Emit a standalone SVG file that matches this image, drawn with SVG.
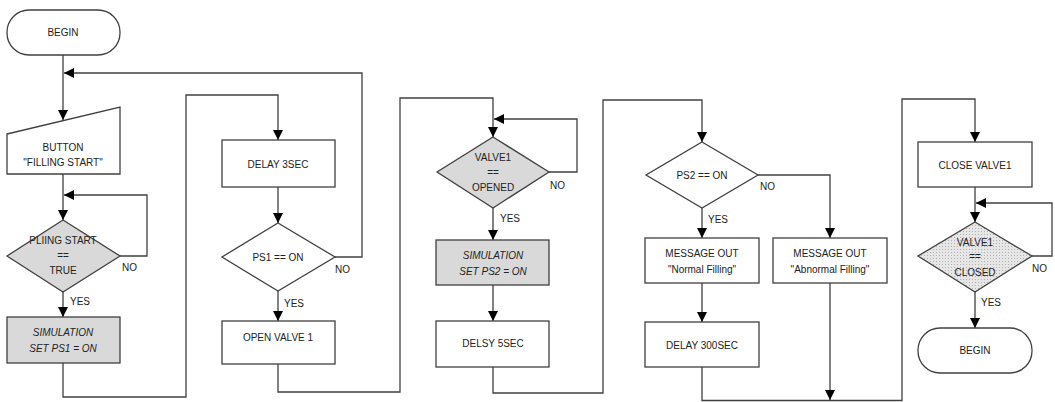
<svg xmlns="http://www.w3.org/2000/svg" width="1055" height="402" viewBox="0 0 1055 402">
<style>
.box{fill:#ffffff;stroke:#404040;stroke-width:1.3}
.gray{fill:#d9d9d9;stroke:#404040;stroke-width:1.3}
.hatch{fill:url(#dots);stroke:#404040;stroke-width:1.3}
.t{font-family:"Liberation Sans",Arial,sans-serif;font-size:10px;fill:#222;text-anchor:middle}
.i{font-style:italic}
.lbl{font-family:"Liberation Sans",Arial,sans-serif;font-size:10px;fill:#222}
.c{fill:none;stroke:#404040;stroke-width:1.3}
.a{marker-end:url(#arr)}
</style>
<defs>
<marker id="arr" viewBox="0 0 10 10" refX="10" refY="5" markerWidth="10" markerHeight="10" markerUnits="userSpaceOnUse" orient="auto">
<path d="M0,0 L10,5 L0,10 z" fill="#000"/>
</marker>
<pattern id="dots" width="3" height="3" patternUnits="userSpaceOnUse">
<rect width="3" height="3" fill="#e6e6e6"/>
<rect width="1" height="1" fill="#b0b0b0"/>
</pattern>
</defs>
<g id="connectors">
<path class="c a" d="M63,55 V120"/>
<path class="c a" d="M335,257 H362 V73 H64"/>
<path class="c a" d="M63,174 V220"/>
<path class="c a" d="M120,256 H147 V195 H64"/>
<path class="c a" d="M63,292 V317"/>
<path class="c a" d="M63,363 V397 H186 V95 H278 V140"/>
<path class="c a" d="M278,187 V223"/>
<path class="c a" d="M278,291 V321"/>
<path class="c a" d="M278,364 V392 H400 V98 H493 V137"/>
<path class="c a" d="M549,172 H577 V119 H494"/>
<path class="c a" d="M493,208 V240"/>
<path class="c a" d="M493,285 V321"/>
<path class="c a" d="M493,367 V393 H603 V100 H702 V142"/>
<path class="c a" d="M702,208 V238"/>
<path class="c a" d="M758,175 H830 V238"/>
<path class="c a" d="M702,283 V322"/>
<path class="c a" d="M830,283 V400"/>
<path class="c a" d="M702,367 V400.5 H902 V99 H975 V142"/>
<path class="c a" d="M975,187 V222"/>
<path class="c a" d="M1032,256 H1052 V203 H976"/>
<path class="c a" d="M975,292 V328"/>
</g>
<g id="labels">
<text class="lbl" x="122" y="271">NO</text>
<text class="lbl" x="70" y="305">YES</text>
<text class="lbl" x="335" y="273">NO</text>
<text class="lbl" x="284" y="307">YES</text>
<text class="lbl" x="550" y="189">NO</text>
<text class="lbl" x="500" y="222">YES</text>
<text class="lbl" x="760" y="190">NO</text>
<text class="lbl" x="708" y="223">YES</text>
<text class="lbl" x="1032" y="272">NO</text>
<text class="lbl" x="981" y="306">YES</text>
</g>
<g id="begin1">
<rect class="box" x="7" y="10" width="113" height="45" rx="22" ry="22"/>
<text class="t" x="63" y="36">BEGIN</text>
</g>
<g id="button">
<polygon class="box" points="7,134 120,107 120,174 7,174"/>
<text class="t" x="63" y="151">BUTTON</text>
<text class="t" x="63" y="166">"FILLING START"</text>
</g>
<g id="dec1">
<polygon class="gray" points="63,220 120,256 63,292 7,256"/>
<text class="t" x="63" y="244">PLIING START</text>
<text class="t" x="63" y="259">==</text>
<text class="t" x="63" y="274">TRUE</text>
</g>
<g id="sim1">
<rect class="gray" x="7" y="317" width="113" height="46"/>
<text class="t i" x="63" y="336">SIMULATION</text>
<text class="t i" x="63" y="352">SET PS1 = ON</text>
</g>
<g id="delay3">
<rect class="box" x="222" y="140" width="113" height="47"/>
<text class="t" x="278" y="168">DELAY 3SEC</text>
</g>
<g id="dec2">
<polygon class="box" points="278,223 335,257 278,291 222,257"/>
<text class="t" x="278" y="261">PS1 == ON</text>
</g>
<g id="open">
<rect class="box" x="222" y="321" width="113" height="43"/>
<text class="t" x="278" y="341">OPEN VALVE 1</text>
</g>
<g id="dec3">
<polygon class="gray" points="493,137 549,172 493,208 437,172"/>
<text class="t" x="493" y="161">VALVE1</text>
<text class="t" x="493" y="176">==</text>
<text class="t" x="493" y="191">OPENED</text>
</g>
<g id="sim2">
<rect class="gray" x="436" y="240" width="113" height="45"/>
<text class="t i" x="493" y="259">SIMULATION</text>
<text class="t i" x="493" y="275">SET PS2 = ON</text>
</g>
<g id="delsy">
<rect class="box" x="436" y="321" width="113" height="46"/>
<text class="t" x="493" y="347">DELSY 5SEC</text>
</g>
<g id="dec4">
<polygon class="box" points="702,142 758,175 702,208 646,175"/>
<text class="t" x="702" y="179">PS2 == ON</text>
</g>
<g id="msg1">
<rect class="box" x="645" y="238" width="114" height="45"/>
<text class="t" x="702" y="257">MESSAGE OUT</text>
<text class="t" x="702" y="273">"Normal Filling"</text>
</g>
<g id="msg2">
<rect class="box" x="773" y="238" width="114" height="45"/>
<text class="t" x="830" y="257">MESSAGE OUT</text>
<text class="t" x="830" y="273">"Abnormal Filling"</text>
</g>
<g id="delay300">
<rect class="box" x="645" y="322" width="114" height="45"/>
<text class="t" x="702" y="349">DELAY 300SEC</text>
</g>
<g id="close">
<rect class="box" x="918" y="142" width="114" height="45"/>
<text class="t" x="975" y="169">CLOSE VALVE1</text>
</g>
<g id="dec5">
<polygon class="hatch" points="975,222 1032,256 975,292 918,256"/>
<text class="t" x="975" y="246">VALVE1</text>
<text class="t" x="975" y="260">==</text>
<text class="t" x="975" y="276">CLOSED</text>
</g>
<g id="begin2">
<rect class="box" x="918" y="328" width="114" height="45" rx="22" ry="22"/>
<text class="t" x="975" y="354">BEGIN</text>
</g>
</svg>
